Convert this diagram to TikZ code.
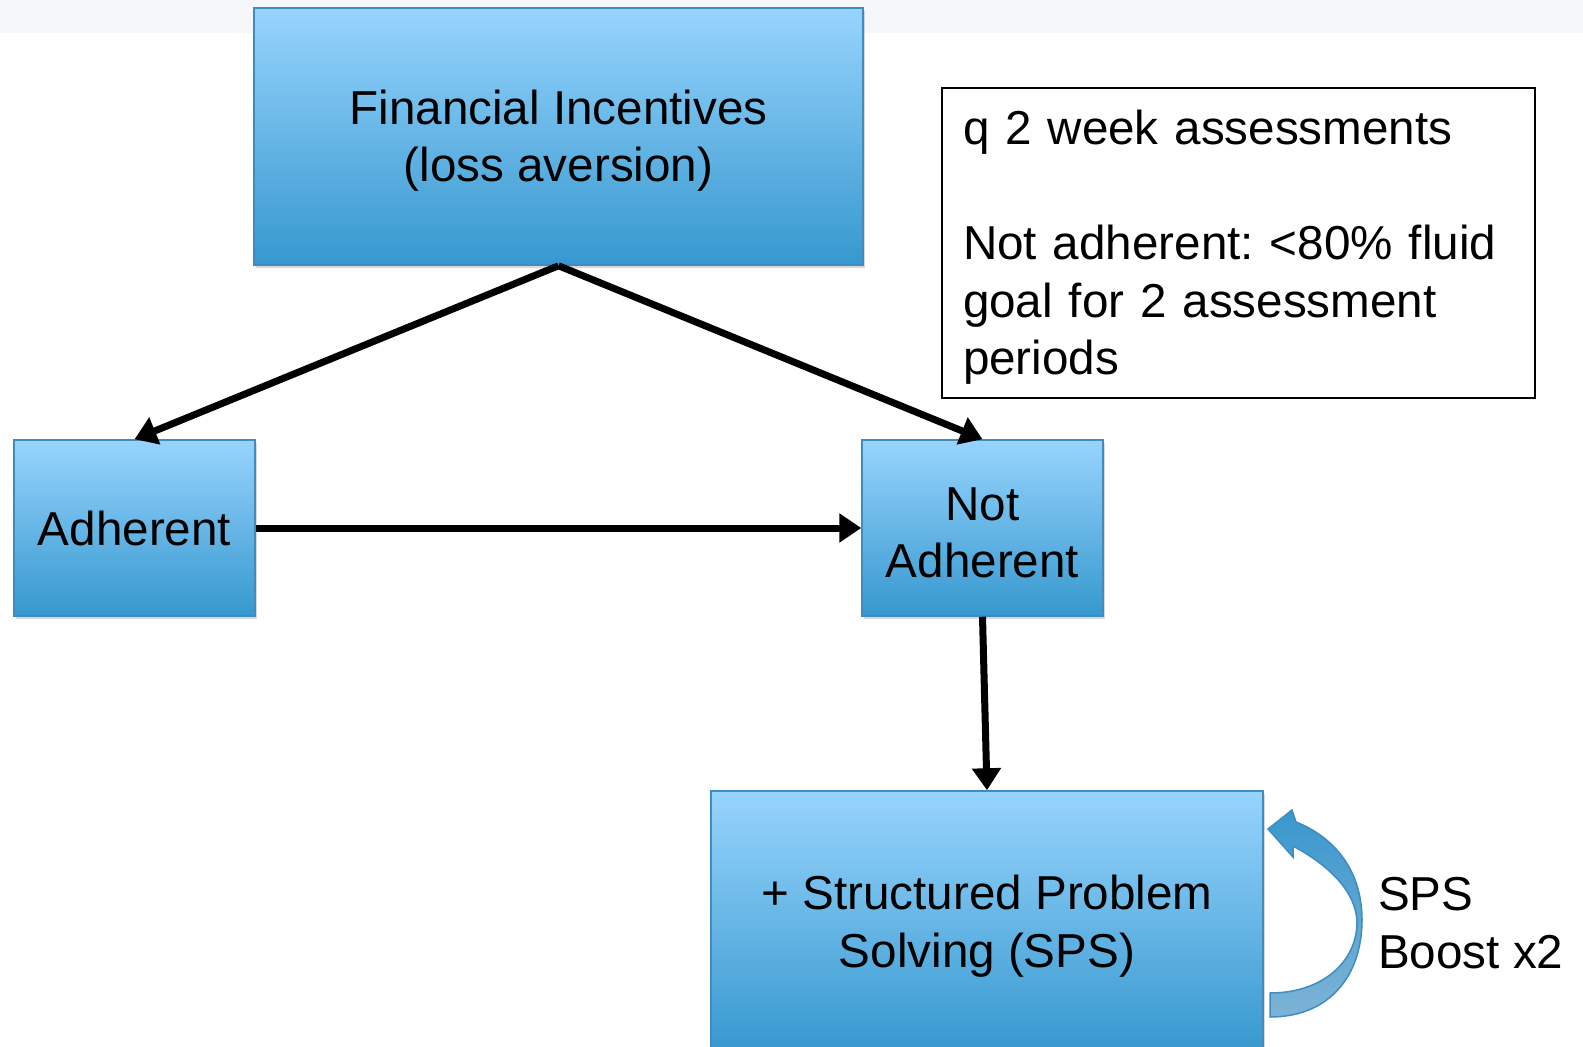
\documentclass[tikz,border=0pt]{standalone}
\usepackage{fontspec}
\setmainfont{Liberation Sans}
\usetikzlibrary{arrows.meta,shadows}
\definecolor{boxtop}{HTML}{97D4FD}
\definecolor{boxbot}{HTML}{3698CF}
\definecolor{boxline}{HTML}{3F8DC0}
\definecolor{bandgray}{HTML}{F6F7FA}
\definecolor{swirltop}{HTML}{3A97CD}
\definecolor{swirlbot}{HTML}{7DB3D6}
\frenchspacing
\newcommand{\boxstrut}{\rule{0pt}{21.4pt}}
\begin{document}
\begin{tikzpicture}[x=0.5pt,y=-0.5pt,line width=3.5pt,
  stepbox/.style={rectangle,draw=boxline,line width=0.75pt,top color=boxtop,bottom color=boxbot,
    align=center,drop shadow={shadow xshift=1pt,shadow yshift=-1.5pt,opacity=0.3}},
  link/.style={-{Triangle[length=11pt,width=14pt]}},
  every node/.style={font=\fontsize{23.8}{28.8}\selectfont}]
 \clip (0,0) rectangle (1583,1047);
 \fill[bandgray] (0,0) rectangle (1583,33);
 % boxes
 \node[stepbox,minimum width=304.5pt,minimum height=128.5pt] (fin) at (558.5,136.5) {\boxstrut Financial Incentives\\(loss aversion)};
 \node[stepbox,minimum width=120.5pt,minimum height=88pt] (adh) at (134.5,528) {Adherent};
 \node[stepbox,minimum width=120.5pt,minimum height=88pt] (nadh) at (982.5,528) {\boxstrut Not\\Adherent};
 \node[stepbox,minimum width=276pt,minimum height=131pt] (sps) at (987,922) {\boxstrut + Structured Problem\\Solving (SPS)};
 \node[draw,line width=0.75pt,fill=white,align=left,minimum width=296.5pt,minimum height=155pt,
   text width=275.5pt,inner xsep=10.5pt] (note) at (1238.5,243)
   {\boxstrut q 2 week assessments\\[28.8pt]Not adherent: <80\% fluid\\goal for 2 assessment\\periods};
 \node[anchor=west,align=left] (boost) at (1368,923) {SPS\\Boost x2};
 % connectors
 \draw[link] (fin.south) -- (adh.north);
 \draw[link] (fin.south) -- (nadh.north);
 \draw[link] (adh.east) -- (nadh.west);
 \draw[link] (nadh.south) -- (sps.north);
 % boost loop
 \draw[boxline,line width=0.75pt,top color=swirltop,bottom color=swirlbot]
   (1270,1017) .. controls (1330,1017) and (1362,975) .. (1362,920)
   .. controls (1362,872) and (1336,838) .. (1296,822) -- (1292,810) -- (1268,829) -- (1293,857) -- (1293,846)
   .. controls (1330,866) and (1356,892) .. (1357,922)
   .. controls (1357,962) and (1322,993) .. (1270,993) -- cycle;
\end{tikzpicture}
\end{document}
